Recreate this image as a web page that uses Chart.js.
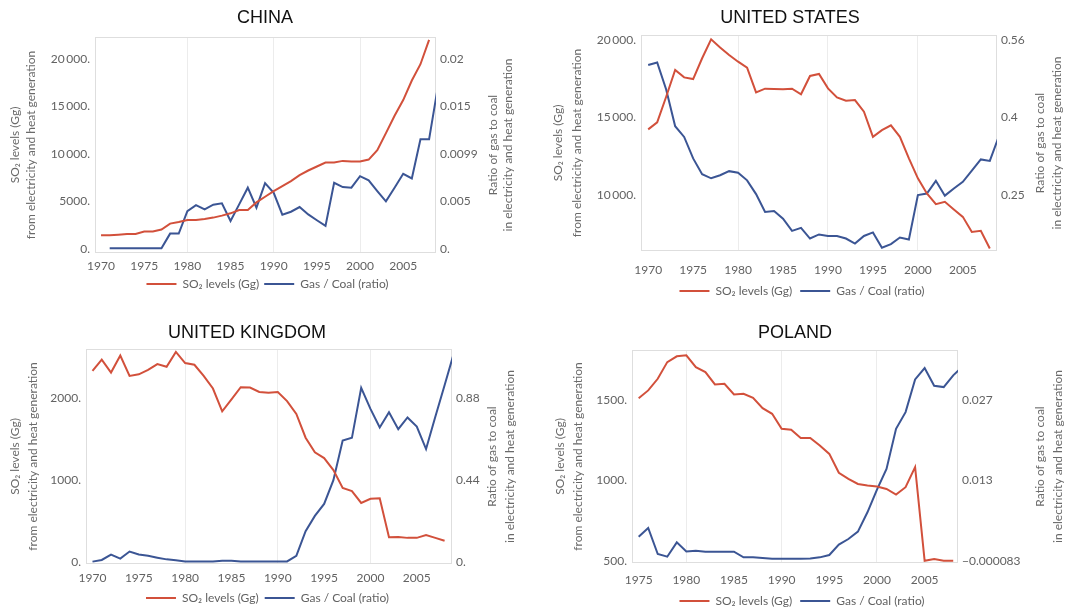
<!DOCTYPE html>
<html>
<head>
<meta charset="utf-8">
<script src="https://cdn.jsdelivr.net/npm/chart.js@4.4.1/dist/chart.umd.min.js"></script>
<style>
  body { margin: 0; background: #fff; overflow: hidden; }
  canvas { position: absolute; }
</style>
</head>
<body>
<canvas id="chinaChart" style="left:0;top:0" width="535" height="305"></canvas>
<canvas id="usChart" style="left:535px;top:0" width="534" height="310"></canvas>
<canvas id="ukChart" style="left:0;top:305px" width="535" height="309"></canvas>
<canvas id="polandChart" style="left:535px;top:305px" width="534" height="312"></canvas>
<script>
// ---- China ----
const chinaYears = [1970, 1971, 1972, 1973, 1974, 1975, 1976, 1977, 1978, 1979, 1980, 1981, 1982, 1983, 1984, 1985, 1986, 1987, 1988, 1989, 1990, 1991, 1992, 1993, 1994, 1995, 1996, 1997, 1998, 1999, 2000, 2001, 2002, 2003, 2004, 2005, 2006, 2007, 2008];
const chinaSO2 = [1470, 1470, 1530, 1600, 1600, 1850, 1850, 2060, 2690, 2860, 3070, 3070, 3180, 3320, 3530, 3770, 4120, 4120, 4920, 5510, 6110, 6630, 7160, 7780, 8270, 8690, 9110, 9110, 9280, 9210, 9210, 9420, 10400, 12200, 14030, 15670, 17730, 19440, 22000];
const chinaRatioYears = [1971, 1972, 1973, 1974, 1975, 1976, 1977, 1978, 1979, 1980, 1981, 1982, 1983, 1984, 1985, 1986, 1987, 1988, 1989, 1990, 1991, 1992, 1993, 1994, 1995, 1996, 1997, 1998, 1999, 2000, 2001, 2002, 2003, 2004, 2005, 2006, 2007, 2008, 2009];
const chinaRatio = [0.0001, 0.0001, 0.0001, 0.0001, 0.0001, 0.0001, 0.0001, 0.00162, 0.00162, 0.00396, 0.00459, 0.00415, 0.00463, 0.00477, 0.00294, 0.00466, 0.0064, 0.00432, 0.00688, 0.00587, 0.00359, 0.0039, 0.00439, 0.00362, 0.00301, 0.00242, 0.00691, 0.00646, 0.0064, 0.0076, 0.00716, 0.00605, 0.00498, 0.0064, 0.00784, 0.00736, 0.01143, 0.01143, 0.0168];
const chinaLeftTicks = [0, 5000, 10000, 15000, 20000];
const chinaLeftLabels = ['0.', '5000.', '10\u2009000.', '15\u2009000.', '20\u2009000.'];
const chinaRightLabels = ['0.', '0.005', '0.0099', '0.015', '0.02'];

// ---- United States ----
const usYears = [1970, 1971, 1972, 1973, 1974, 1975, 1976, 1977, 1978, 1979, 1980, 1981, 1982, 1983, 1984, 1985, 1986, 1987, 1988, 1989, 1990, 1991, 1992, 1993, 1994, 1995, 1996, 1997, 1998, 1999, 2000, 2001, 2002, 2003, 2004, 2005, 2006, 2007, 2008];
const usSO2 = [14240, 14690, 16340, 18070, 17590, 17480, 18820, 20040, 19510, 19030, 18600, 18220, 16620, 16860, 16840, 16820, 16860, 16500, 17680, 17810, 16880, 16300, 16090, 16130, 15380, 13760, 14190, 14500, 13760, 12370, 11080, 10110, 9420, 9570, 9080, 8600, 7630, 7700, 6560];
const usRatioYears = [1970, 1971, 1972, 1973, 1974, 1975, 1976, 1977, 1978, 1979, 1980, 1981, 1982, 1983, 1984, 1985, 1986, 1987, 1988, 1989, 1990, 1991, 1992, 1993, 1994, 1995, 1996, 1997, 1998, 1999, 2000, 2001, 2002, 2003, 2004, 2005, 2006, 2007, 2008, 2009];
const usRatio = [0.506, 0.511, 0.458, 0.386, 0.365, 0.323, 0.292, 0.284, 0.290, 0.298, 0.295, 0.280, 0.253, 0.218, 0.220, 0.205, 0.181, 0.187, 0.166, 0.174, 0.171, 0.171, 0.166, 0.156, 0.171, 0.178, 0.148, 0.155, 0.168, 0.164, 0.251, 0.254, 0.279, 0.250, 0.264, 0.277, 0.299, 0.321, 0.318, 0.366];
const usLeftTicks = [10000, 15000, 20000];
const usLeftLabels = ['10\u2009000.', '15\u2009000.', '20\u2009000.'];
const usRightLabels = ['0.25', '0.4', '0.56'];

// ---- United Kingdom ----
const ukYears = [1970, 1971, 1972, 1973, 1974, 1975, 1976, 1977, 1978, 1979, 1980, 1981, 1982, 1983, 1984, 1985, 1986, 1987, 1988, 1989, 1990, 1991, 1992, 1993, 1994, 1995, 1996, 1997, 1998, 1999, 2000, 2001, 2002, 2003, 2004, 2005, 2006, 2007, 2008];
const ukSO2 = [2331, 2467, 2310, 2517, 2269, 2289, 2343, 2413, 2380, 2562, 2426, 2405, 2269, 2116, 1839, 1983, 2132, 2128, 2074, 2066, 2074, 1963, 1806, 1517, 1339, 1269, 1124, 905, 868, 723, 773, 781, 306, 310, 298, 298, 331, 298, 264];
const ukRatioYears = [1970, 1971, 1972, 1973, 1974, 1975, 1976, 1977, 1978, 1979, 1980, 1981, 1982, 1983, 1984, 1985, 1986, 1987, 1988, 1989, 1990, 1991, 1992, 1993, 1994, 1995, 1996, 1997, 1998, 1999, 2000, 2001, 2002, 2003, 2004, 2005, 2006, 2007, 2008, 2009];
const ukRatio = [0.004, 0.013, 0.042, 0.020, 0.058, 0.042, 0.035, 0.025, 0.016, 0.011, 0.005, 0.004, 0.004, 0.004, 0.009, 0.009, 0.004, 0.004, 0.004, 0.004, 0.004, 0.005, 0.035, 0.167, 0.249, 0.313, 0.44, 0.653, 0.667, 0.935, 0.822, 0.722, 0.804, 0.713, 0.776, 0.727, 0.607, 0.78, 0.949, 1.12];
const ukLeftTicks = [0, 1000, 2000];
const ukLeftLabels = ['0.', '1000.', '2000.'];
const ukRightLabels = ['0.', '0.44', '0.88'];

// ---- Poland ----
const plYears = [1975, 1976, 1977, 1978, 1979, 1980, 1981, 1982, 1983, 1984, 1985, 1986, 1987, 1988, 1989, 1990, 1991, 1992, 1993, 1994, 1995, 1996, 1997, 1998, 1999, 2000, 2001, 2002, 2003, 2004, 2005, 2006, 2007, 2008];
const plSO2 = [1510, 1558, 1630, 1733, 1769, 1775, 1702, 1671, 1595, 1599, 1533, 1537, 1512, 1448, 1413, 1320, 1314, 1264, 1264, 1217, 1165, 1048, 1010, 979, 969, 963, 948, 913, 959, 1083, 504, 514, 504, 504];
const plRatioYears = [1975, 1976, 1977, 1978, 1979, 1980, 1981, 1982, 1983, 1984, 1985, 1986, 1987, 1988, 1989, 1990, 1991, 1992, 1993, 1994, 1995, 1996, 1997, 1998, 1999, 2000, 2001, 2002, 2003, 2004, 2005, 2006, 2007, 2008, 2009];
const plRatio = [0.00406, 0.00551, 0.00115, 0.0007, 0.00311, 0.00159, 0.00171, 0.00154, 0.00154, 0.00154, 0.00154, 0.00059, 0.00059, 0.00048, 0.00037, 0.00037, 0.00037, 0.00037, 0.00042, 0.00059, 0.00098, 0.00272, 0.00367, 0.0049, 0.00814, 0.01195, 0.01542, 0.02213, 0.02493, 0.03041, 0.03232, 0.02935, 0.02913, 0.03109, 0.0326];
const plLeftTicks = [500, 1000, 1500];
const plLeftLabels = ['500.', '1000.', '1500.'];
const plRightLabels = ['\u22120.000083', '0.013', '0.027'];

const yearTicksFrom1970 = [1970, 1975, 1980, 1985, 1990, 1995, 2000, 2005];
const yearTicksFrom1975 = [1975, 1980, 1985, 1990, 1995, 2000, 2005];
const gridYears = [1980, 1990, 2000];

const so2Label = 'SO\u2082 levels (Gg)';
const ratioLabel = 'Gas / Coal (ratio)';
const leftTitle = ['SO\u2082 levels (Gg)', 'from electricity and heat generation'];
const rightTitle = ['Ratio of gas to coal', 'in electricity and heat generation'];

const RED = '#d2503b';
const BLUE = '#3b5594';
const TICK_COLOR = '#626262';
const TICK_FONT = { family: 'Lato, "Open Sans", sans-serif', size: 12 };

// titles, frame and rotated axis titles
const panelText = {
    id: 'panelText',
    beforeDatasetsDraw(chart, args, opts) {
        const { ctx, chartArea: a } = chart;
        ctx.save();
        ctx.strokeStyle = '#dedede';
        ctx.lineWidth = 1;
        ctx.strokeRect(a.left + 0.5, a.top + 0.5, a.width - 1, a.height - 1);
        ctx.restore();
    },
    afterDraw(chart, args, opts) {
        const { ctx, chartArea: a } = chart;
        ctx.save();
        ctx.fillStyle = '#111';
        ctx.font = '18px "Liberation Sans", Arial, sans-serif';
        ctx.textAlign = 'center';
        ctx.textBaseline = 'middle';
        ctx.fillText(opts.title, opts.titleX, opts.titleY);

        ctx.font = '12px Lato, "Open Sans", sans-serif';
        ctx.fillStyle = '#6a6a6a';
        const midY = (a.top + a.bottom) / 2;
        const vText = (text, x) => {
            ctx.save();
            ctx.translate(x, midY);
            ctx.rotate(-Math.PI / 2);
            ctx.fillText(text, 0, 0);
            ctx.restore();
        };
        vText(leftTitle[0], a.left + opts.leftOff[0]);
        vText(leftTitle[1], a.left + opts.leftOff[1]);
        vText(rightTitle[0], a.right + opts.rightOff[0]);
        vText(rightTitle[1], a.right + opts.rightOff[1]);
        ctx.restore();
    }
};

function makeChart(canvasId, p) {
    const toRatio = (v) => p.ratioAt0 + v * p.ratioPerGg;
    const rightTicks = p.leftTicks.map(toRatio);

    new Chart(document.getElementById(canvasId), {
        type: 'line',
        data: {
            datasets: [
                {
                    label: so2Label,
                    data: p.so2Years.map((yr, i) => ({ x: yr, y: p.so2[i] })),
                    borderColor: RED,
                    backgroundColor: RED,
                    borderWidth: 2,
                    pointRadius: 0,
                    tension: 0,
                    yAxisID: 'y'
                },
                {
                    label: ratioLabel,
                    data: p.ratioYears.map((yr, i) => ({ x: yr, y: p.ratio[i] })),
                    borderColor: BLUE,
                    backgroundColor: BLUE,
                    borderWidth: 2,
                    pointRadius: 0,
                    tension: 0,
                    yAxisID: 'y1'
                }
            ]
        },
        options: {
            responsive: false,
            animation: false,
            devicePixelRatio: 1,
            layout: { padding: { top: p.padTop, bottom: p.padBottom, left: 0, right: 0 } },
            plugins: {
                legend: {
                    position: 'bottom',
                    labels: {
                        usePointStyle: true,
                        pointStyle: 'line',
                        pointStyleWidth: 30,
                        color: TICK_COLOR,
                        font: TICK_FONT,
                        padding: p.legPad
                    }
                },
                tooltip: { enabled: false },
                panelText: p.text
            },
            scales: {
                x: {
                    type: 'linear',
                    min: p.xMin,
                    max: p.xMax,
                    afterBuildTicks: (s) => { s.ticks = p.xTicks.map(v => ({ value: v })); },
                    afterFit: (s) => { s.height = p.xH; },
                    ticks: {
                        color: TICK_COLOR,
                        font: TICK_FONT,
                        padding: p.xPad,
                        autoSkip: false,
                        maxRotation: 0,
                        callback: (v) => String(v)
                    },
                    grid: {
                        drawTicks: false,
                        color: (c) => gridYears.includes(c.tick && c.tick.value) ? '#ececec' : 'rgba(0,0,0,0)'
                    },
                    border: { display: false }
                },
                y: {
                    position: 'left',
                    min: p.yMin,
                    max: p.yMax,
                    afterBuildTicks: (s) => { s.ticks = p.leftTicks.map(v => ({ value: v })); },
                    afterFit: (s) => { s.width = p.leftW; },
                    ticks: {
                        color: TICK_COLOR,
                        font: TICK_FONT,
                        padding: 5,
                        callback: (v, i) => p.leftLabels[i]
                    },
                    grid: { display: false, drawTicks: false },
                    border: { display: false }
                },
                y1: {
                    position: 'right',
                    min: toRatio(p.yMin),
                    max: toRatio(p.yMax),
                    afterBuildTicks: (s) => { s.ticks = rightTicks.map(v => ({ value: v })); },
                    afterFit: (s) => { s.width = p.rightW; },
                    ticks: {
                        color: TICK_COLOR,
                        font: TICK_FONT,
                        padding: 4,
                        callback: (v, i) => p.rightLabels[i]
                    },
                    grid: { display: false, drawTicks: false },
                    border: { display: false }
                }
            }
        },
        plugins: [panelText]
    });
}

makeChart('chinaChart', {
    so2Years: chinaYears, so2: chinaSO2, ratioYears: chinaRatioYears, ratio: chinaRatio,
    leftTicks: chinaLeftTicks, leftLabels: chinaLeftLabels, rightLabels: chinaRightLabels,
    ratioAt0: 0, ratioPerGg: 0.00000099,
    xMin: 1969.3, xMax: 2008.8, xTicks: yearTicksFrom1970,
    yMin: -400, yMax: 22300,
    leftW: 95, rightW: 99, padTop: 37, padBottom: 5, xH: 20, xPad: 6, legPad: 5,
    text: { title: 'CHINA', titleX: 265, titleY: 18, leftOff: [-80, -64], rightOff: [57, 72] }
});

makeChart('usChart', {
    so2Years: usYears, so2: usSO2, ratioYears: usRatioYears, ratio: usRatio,
    leftTicks: usLeftTicks, leftLabels: usLeftLabels, rightLabels: usRightLabels,
    ratioAt0: -0.053, ratioPerGg: 0.0000304,
    xMin: 1969.2, xMax: 2008.8, xTicks: yearTicksFrom1970,
    yMin: 6400, yMax: 20320,
    leftW: 106, rightW: 72, padTop: 35, padBottom: 3, xH: 26, xPad: 12, legPad: 8,
    text: { title: 'UNITED STATES', titleX: 255, titleY: 18, leftOff: [-83, -64], rightOff: [43, 60] }
});

makeChart('ukChart', {
    so2Years: ukYears, so2: ukSO2, ratioYears: ukRatioYears, ratio: ukRatio,
    leftTicks: ukLeftTicks, leftLabels: ukLeftLabels, rightLabels: ukRightLabels,
    ratioAt0: 0, ratioPerGg: 0.00044,
    xMin: 1969.3, xMax: 2008.8, xTicks: yearTicksFrom1970,
    yMin: -20, yMax: 2597,
    leftW: 86, rightW: 83, padTop: 44, padBottom: 0, xH: 22, xPad: 7, legPad: 6,
    text: { title: 'UNITED KINGDOM', titleX: 247, titleY: 28, leftOff: [-71, -53], rightOff: [40, 58] }
});

makeChart('polandChart', {
    so2Years: plYears, so2: plSO2, ratioYears: plRatioYears, ratio: plRatio,
    leftTicks: plLeftTicks, leftLabels: plLeftLabels, rightLabels: plRightLabels,
    ratioAt0: -0.013625, ratioPerGg: 0.000027083,
    xMin: 1974.3, xMax: 2008.5, xTicks: yearTicksFrom1975,
    yMin: 490, yMax: 1808,
    leftW: 97, rightW: 111, padTop: 45, padBottom: 0, xH: 24, xPad: 10, legPad: 8,
    text: { title: 'POLAND', titleX: 260, titleY: 28, leftOff: [-72, -54], rightOff: [82, 100] }
});
</script>
</body>
</html>
